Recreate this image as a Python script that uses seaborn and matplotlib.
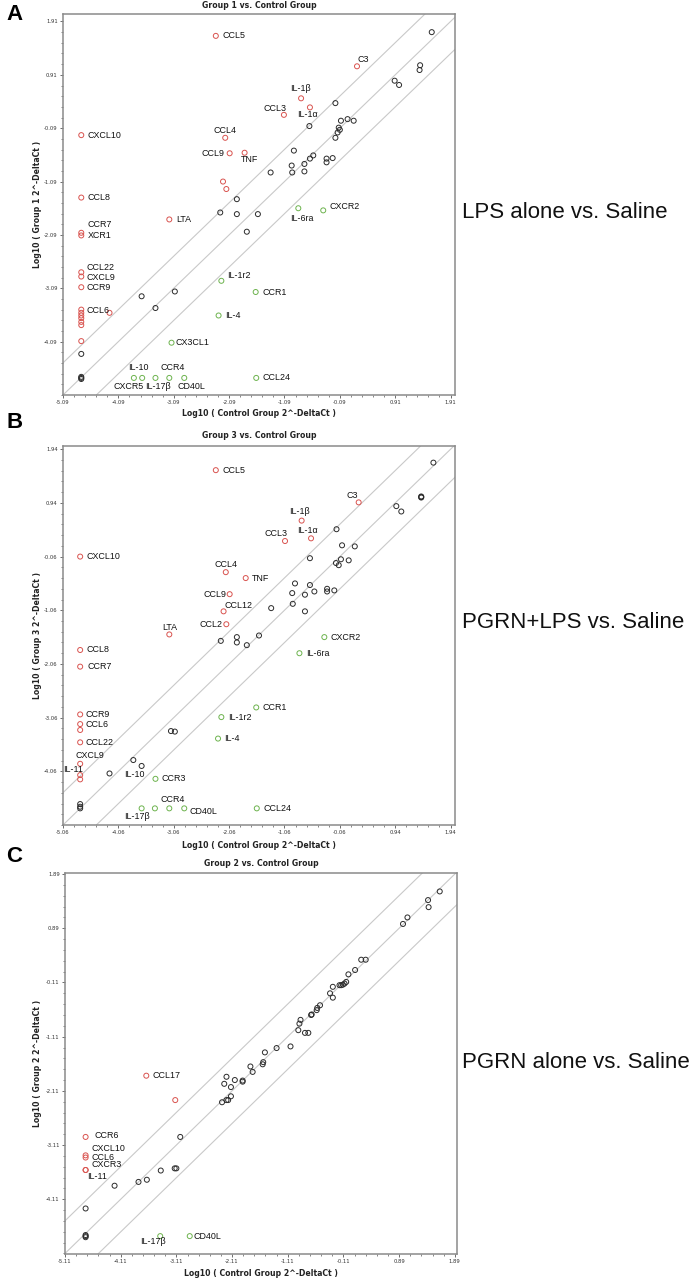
import numpy as np
import pandas as pd
import matplotlib
matplotlib.use("Agg")
import matplotlib.pyplot as plt
from matplotlib.ticker import FixedLocator
import seaborn as sns

# ---- Panel A: Group 1 (LPS alone) vs control ----
a_up_lab = ["CCL5", "C3", "IL-1β", "IL-1α", "CCL3", "CXCL10", "CCL4", "CCL9", "TNF", "", "",
            "CCL8", "LTA", "CCR7", "XCR1", "CCL22", "CXCL9", "CCR9", "CCL6", "", "", "", "", "", "", ""]
a_up_x = [-2.33, 0.22, -0.79, -0.63, -1.10, -4.76, -2.16, -2.08, -1.81, -2.20, -2.14,
          -4.76, -3.17, -4.76, -4.76, -4.76, -4.76, -4.76, -4.76, -4.76, -4.76, -4.76, -4.76, -4.76, -4.25, -4.76]
a_up_y = [1.64, 1.07, 0.47, 0.30, 0.16, -0.22, -0.27, -0.56, -0.55, -1.09, -1.23,
          -1.39, -1.80, -2.05, -2.10, -2.79, -2.87, -3.07, -3.49, -3.55, -3.60, -3.65, -3.72, -3.78, -3.55, -4.08]
a_dn_lab = ["IL-6ra", "CXCR2", "IL-1r2", "CCR1", "IL-4", "CX3CL1", "CXCR5", "IL-10", "IL-17β", "CCR4", "CD40L", "CCL24"]
a_dn_x = [-0.84, -0.39, -2.23, -1.61, -2.28, -3.13, -3.81, -3.66, -3.42, -3.17, -2.90, -1.60]
a_dn_y = [-1.59, -1.63, -2.95, -3.16, -3.60, -4.11, -4.77, -4.77, -4.77, -4.77, -4.77, -4.77]
a_nc_x = [1.57, 1.36, 1.35, 0.90, 0.98, -0.17, -0.64, -0.07, 0.05, 0.16, -0.11, -0.09, -0.13, -0.17,
          -0.92, -0.57, -0.63, -0.73, -0.96, -0.95, -0.73, -1.34, -0.33, -0.33, -0.22, -1.95,
          -2.25, -1.95, -1.57, -1.77, -3.67, -3.07, -3.42, -4.76, -4.76, -4.76, -4.76]
a_nc_y = [1.71, 1.09, 1.00, 0.80, 0.72, 0.38, -0.05, 0.05, 0.08, 0.05, -0.08, -0.12, -0.17, -0.27,
          -0.51, -0.60, -0.66, -0.76, -0.79, -0.92, -0.90, -0.92, -0.66, -0.73, -0.65, -1.42,
          -1.67, -1.70, -1.70, -2.03, -3.24, -3.15, -3.46, -4.32, -4.77, -4.75, -4.79]

# ---- Panel B: Group 3 (PGRN+LPS) vs control ----
b_up_lab = ["CCL5", "C3", "IL-1β", "IL-1α", "CCL3", "CXCL10", "CCL4", "TNF", "CCL9", "CCL12", "CCL2",
            "LTA", "CCL8", "CCR7", "CCR9", "CCL6", "", "CCL22", "CXCL9", "IL-11", ""]
b_up_x = [-2.30, 0.28, -0.75, -0.58, -1.05, -4.75, -2.12, -1.76, -2.05, -2.16, -2.11,
          -3.14, -4.75, -4.75, -4.75, -4.75, -4.75, -4.75, -4.75, -4.75, -4.75]
b_up_y = [1.55, 0.95, 0.61, 0.28, 0.23, -0.06, -0.35, -0.46, -0.76, -1.08, -1.32,
          -1.51, -1.80, -2.11, -3.00, -3.18, -3.29, -3.52, -3.92, -4.13, -4.21]
b_dn_lab = ["CXCR2", "IL-6ra", "CCR1", "IL-1r2", "IL-4", "CCR3", "IL-17β", "", "CCR4", "CD40L", "CCL24"]
b_dn_x = [-0.34, -0.79, -1.57, -2.20, -2.26, -3.39, -3.64, -3.40, -3.14, -2.87, -1.56]
b_dn_y = [-1.56, -1.86, -2.87, -3.05, -3.45, -4.20, -4.75, -4.75, -4.75, -4.75, -4.75]
b_nc_lab = ["IL-10"]
b_nc_x = [-3.64, 1.63, 1.41, 1.41, 1.41, 0.96, 1.05, -0.12, -0.02, 0.21, -0.60, -0.13, -0.08, -0.04, 0.10,
          -0.87, -0.60, -0.92, -0.69, -0.52, -0.29, -0.29, -0.16, -0.91, -0.69, -1.30,
          -2.21, -1.92, -1.92, -1.74, -1.52, -3.11, -3.04, -3.79, -4.22, -4.75, -4.75, -4.75]
b_nc_y = [-3.96, 1.69, 1.05, 1.04, 1.06, 0.88, 0.78, 0.45, 0.15, 0.13, -0.09, -0.18, -0.22, -0.11, -0.13,
          -0.56, -0.59, -0.74, -0.77, -0.71, -0.66, -0.71, -0.69, -0.94, -1.08, -1.02,
          -1.63, -1.56, -1.66, -1.71, -1.53, -3.31, -3.32, -3.85, -4.10, -4.67, -4.72, -4.75]

# ---- Panel C: Group 2 (PGRN alone) vs control ----
c_up_lab = ["CCL17", "", "CCR6", "CXCL10", "CCL6", "CXCR3", "IL-11"]
c_up_x = [-3.65, -3.13, -4.74, -4.74, -4.74, -4.74, -4.74]
c_up_y = [-1.83, -2.28, -2.96, -3.30, -3.34, -3.57, -3.57]
c_dn_lab = ["IL-17β", "CD40L"]
c_dn_x = [-3.40, -2.87]
c_dn_y = [-4.79, -4.79]
c_nc_x = [1.62, 1.41, 1.42, 1.04, 0.96, 0.21, 0.29, 0.10, -0.02, -0.06, -0.09, -0.12, -0.15, -0.18,
          -0.30, -0.35, -0.30, -0.53, -0.58, -0.59, -0.68, -0.69, -0.88, -0.90, -0.92, -0.80, -0.74,
          -1.06, -1.31, -1.52, -1.55, -1.56, -1.78, -1.74, -1.92, -1.92, -2.06, -2.21, -2.25, -2.13,
          -2.13, -2.18, -2.21, -2.29, -3.04, -3.39, -3.14, -3.11, -3.64, -3.79, -4.22, -4.74,
          -4.74, -4.74, -4.74]
c_nc_y = [1.57, 1.41, 1.28, 1.09, 0.97, 0.31, 0.31, 0.12, 0.04, -0.10, -0.13, -0.15, -0.16, -0.16,
          -0.19, -0.31, -0.39, -0.53, -0.58, -0.62, -0.70, -0.71, -0.80, -0.87, -0.99, -1.04, -1.04,
          -1.29, -1.32, -1.40, -1.58, -1.62, -1.66, -1.76, -1.92, -1.94, -1.91, -1.85, -1.98, -2.04,
          -2.21, -2.28, -2.28, -2.32, -2.96, -3.58, -3.54, -3.54, -3.75, -3.79, -3.86, -4.28,
          -4.79, -4.77, -4.81]

panel_titles = ["Group 1 vs. Control Group", "Group 3 vs. Control Group", "Group 2 vs. Control Group"]
panel_ylabels = ["Log10 ( Group 1 2^-DeltaCt )", "Log10 ( Group 3 2^-DeltaCt )", "Log10 ( Group 2 2^-DeltaCt )"]
side_texts = ["LPS alone vs. Saline", "PGRN+LPS vs. Saline", "PGRN alone vs. Saline"]
panel_letters = ["A", "B", "C"]
xlabel = "Log10 ( Control Group 2^-DeltaCt )"
fold_cut = np.log10(4)

# label offsets in pixels: (dx, dy downwards, ha); default is right of point
offs_a = {"C3": (1, -7, "left"), "IL-1β": (-1, -10, "center"), "IL-1α": (-3, 7, "center"),
          "CCL3": (-9, -6, "center"), "CCL4": (0, -7, "center"), "CCL9": (-5, 0, "right"),
          "TNF": (5, 7, "center"), "CCR7": (6.5, -8, "left"), "CCL22": (5, -4.5, "left"),
          "CXCL9": (5, 0.5, "left"), "CCR9": (5, 0, "left"), "CCL6": (5, 1, "left"),
          "IL-1r2": (5.5, -5, "left"), "CX3CL1": (4, 0, "left"), "IL-6ra": (4, 10, "center"),
          "CXCR2": (6, -4, "left"), "CXCR5": (-5, 9, "center"), "IL-10": (-4, -10, "center"),
          "IL-17β": (2, 9, "center"), "CCR4": (3, -10, "center"), "CD40L": (7, 9, "center")}
offs_b = {"C3": (-6, -7, "center"), "IL-1β": (-2, -9, "center"), "IL-1α": (-4, -8, "center"),
          "CCL3": (-9, -8, "center"), "CCL4": (0, -8, "center"), "CCL9": (-3, 0, "right"),
          "CCL12": (1, -6, "left"), "CCL2": (-4, 0, "right"), "LTA": (0, -7, "center"),
          "CXCL9": (10, -8, "center"), "IL-11": (-7, -6, "center"), "IL-10": (-7, 9, "center"),
          "IL-17β": (-5, 8, "center"), "CCR4": (3, -9, "center"), "CD40L": (5, 3, "left"),
          "CCR9": (5, 0, "left"), "CCL6": (5, 0, "left"), "CCL22": (5, 0, "left"), "CCR7": (7, 0, "left")}
offs_c = {"CCR6": (9, -1, "left"), "CXCL10": (6, -6.5, "left"), "CCL6": (6, 0, "left"),
          "CXCR3": (6, -5, "left"), "IL-11": (2, 7, "left"), "IL-17β": (-7, 5, "center"),
          "CD40L": (4, 0, "left")}

colors = {"up": "#d9534f", "down": "#6db34e", "nc": "#2b2b2b"}

sns.set_theme(style="white")
plt.rcParams["font.family"] = ["Liberation Sans", "DejaVu Sans"]


def make_df(up_lab, up_x, up_y, dn_lab, dn_x, dn_y, nc_x, nc_y, nc_lab=()):
    nc_labels = list(nc_lab) + [""] * (len(nc_x) - len(nc_lab))
    df = pd.concat([
        pd.DataFrame({"gene": up_lab, "x": up_x, "y": up_y, "grp": "up"}),
        pd.DataFrame({"gene": dn_lab, "x": dn_x, "y": dn_y, "grp": "down"}),
        pd.DataFrame({"gene": nc_labels, "x": nc_x, "y": nc_y, "grp": "nc"}),
    ], ignore_index=True)
    return df


def draw_panel(ax, df, offs, x0, xlim, ylim):
    # reference lines: no change and 4-fold up/down
    for k in [0, fold_cut, -fold_cut]:
        ax.axline((0, k), slope=1, color="#c9c9c9", lw=0.8, zorder=1)
    for g in ["nc", "up", "down"]:
        sub = df[df["grp"] == g]
        sns.scatterplot(data=sub, x="x", y="y", ax=ax, marker="o", s=13,
                        facecolor="none", edgecolor=colors[g], linewidth=0.7,
                        legend=False, zorder=3)
    for _, r in df[df["gene"] != ""].iterrows():
        dx, dy, ha = offs.get(r["gene"], (6.5, 0, "left"))
        ax.annotate(r["gene"], (r["x"], r["y"]), xytext=(dx, -dy),
                    textcoords="offset pixels", ha=ha, va="center",
                    fontsize=6.4, color="#111111", zorder=4)
    ax.set_xlim(*xlim)
    ax.set_ylim(*ylim)
    xt = [x0 + i for i in range(8)]
    yt = [x0 + i for i in range(1, 8)]
    ax.xaxis.set_major_locator(FixedLocator(xt))
    ax.yaxis.set_major_locator(FixedLocator(yt))
    ax.set_xticklabels([f"{v:.2f}" for v in xt], fontsize=3.8, family="DejaVu Sans")
    ax.set_yticklabels([f"{v:.2f}" for v in yt], fontsize=3.8, family="DejaVu Sans")
    ax.xaxis.set_minor_locator(FixedLocator([x0 + i * 0.2 for i in range(36)]))
    ax.yaxis.set_minor_locator(FixedLocator([x0 + i * 0.2 for i in range(36)]))
    ax.tick_params(which="major", direction="out", length=2.2, width=0.6, color="#555555",
                   pad=1.5, bottom=True, left=True, labelcolor="#333333")
    ax.tick_params(which="minor", direction="out", length=1.3, width=0.5, color="#555555",
                   bottom=True, left=True)
    for sp in ["top", "right", "bottom", "left"]:
        ax.spines[sp].set_color("#8a8a8a")
        ax.spines[sp].set_linewidth(1.1)


fig = plt.figure(figsize=(6.97, 12.8), dpi=100)
W, H = 697, 1280

frames = [
    make_df(a_up_lab, a_up_x, a_up_y, a_dn_lab, a_dn_x, a_dn_y, a_nc_x, a_nc_y),
    make_df(b_up_lab, b_up_x, b_up_y, b_dn_lab, b_dn_x, b_dn_y, b_nc_x, b_nc_y, b_nc_lab),
    make_df(c_up_lab, c_up_x, c_up_y, c_dn_lab, c_dn_x, c_dn_y, c_nc_x, c_nc_y),
]
offsets = [offs_a, offs_b, offs_c]
starts = [-5.09, -5.06, -5.11]
xlims = [(-5.09, 1.99), (-5.06, 2.02), (-5.11, 1.93)]
ylims = [(-5.09, 2.05), (-5.06, 2.00), (-5.12, 1.91)]
# pixel boxes: left, top, right, bottom
boxes = [(63, 14, 455, 395), (63, 446, 455, 825), (65, 873, 457, 1254)]
title_y = [5, 435, 863]
xlabel_y = [413, 846, 1274]
letter_y = [15, 423, 856]
side_y = [213, 622, 1063]

for i in range(3):
    l, t, r, b = boxes[i]
    ax = fig.add_axes([l / W, 1 - b / H, (r - l) / W, (b - t) / H])
    draw_panel(ax, frames[i], offsets[i], starts[i], xlims[i], ylims[i])
    ax.set_xlabel("")
    ax.set_ylabel("")
    cx = (l + r) / 2 / W
    fig.text(cx, 1 - title_y[i] / H, panel_titles[i], ha="center", va="center",
             fontsize=5.6, fontweight="bold", family="DejaVu Sans", color="#222222")
    fig.text(cx, 1 - xlabel_y[i] / H, xlabel, ha="center", va="center",
             fontsize=5.6, fontweight="bold", family="DejaVu Sans", color="#222222")
    fig.text(37 / W, 1 - (t + b) / 2 / H, panel_ylabels[i], ha="center", va="center",
             rotation=90, fontsize=5.6, fontweight="bold", family="DejaVu Sans", color="#222222")
    fig.text(6 / W, 1 - letter_y[i] / H, panel_letters[i], ha="left", va="center",
             fontsize=16, fontweight="bold", family="Liberation Sans", color="black")
    fig.text(462 / W, 1 - side_y[i] / H, side_texts[i], ha="left", va="center",
             fontsize=16, family="Liberation Sans", color="#111111")

fig.savefig("out.png", dpi=100, facecolor="white")
